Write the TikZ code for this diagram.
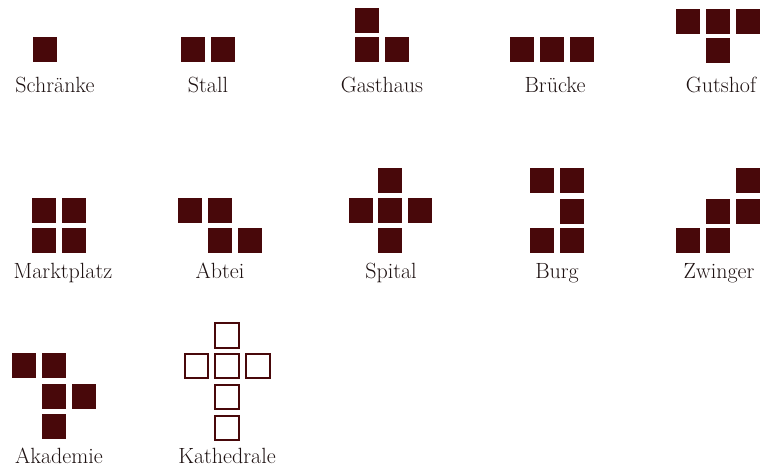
\documentclass[tikz,border=0pt]{standalone}
\usepackage{fontspec}
\definecolor{brick}{RGB}{72,8,10}
\definecolor{ink}{RGB}{30,18,18}
\begin{document}
\begin{tikzpicture}[x=1pt, y=-1pt,
  block/.style={fill=brick, draw=none, minimum width=24pt, minimum height=25pt, inner sep=0pt},
  hollowblock/.style={draw=brick, line width=2.1pt, minimum width=23.5pt, minimum height=24.5pt, inner sep=0pt},
  caption/.style={anchor=base, inner sep=0pt, text=ink, font=\fontsize{22}{26}\selectfont}]
\useasboundingbox (0,0) rectangle (765,475);
% first row
\node[block] (schraenke1) at (45,49.8) {};
\foreach \x/\y [count=\i] in {193.3/49.8, 223.2/49.8}
  \node[block] (stall\i) at (\x,\y) {};
\foreach \x/\y [count=\i] in {367/20.8, 367/49.8, 396.5/49.8}
  \node[block] (gasthaus\i) at (\x,\y) {};
\foreach \x/\y [count=\i] in {522/49.8, 551.7/49.8, 581.7/49.8}
  \node[block] (bruecke\i) at (\x,\y) {};
\foreach \x/\y [count=\i] in {688/21.5, 718/21.5, 748/21.5, 718/50.8}
  \node[block] (gutshof\i) at (\x,\y) {};
\node[caption] (schraenke) at (55,92) {Schränke};
\node[caption] (stall) at (208,92) {Stall};
\node[caption] (gasthaus) at (382,92) {Gasthaus};
\node[caption] (bruecke) at (555,92) {Brücke};
\node[caption] (gutshof) at (721,92) {Gutshof};
% second row
\foreach \x/\y [count=\i] in {43.8/210.2, 73.5/210.2, 43.8/240, 73.5/240}
  \node[block] (markt\i) at (\x,\y) {};
\foreach \x/\y [count=\i] in {190/210.2, 219.8/210.2, 219.8/240, 250/240}
  \node[block] (abtei\i) at (\x,\y) {};
\foreach \x/\y [count=\i] in {390.3/180, 360.5/210.5, 390.3/210.5, 419.5/210.5, 390.3/240.8}
  \node[block] (spital\i) at (\x,\y) {};
\foreach \x/\y [count=\i] in {542.2/180.8, 572.2/180.8, 572.2/211, 542.2/240.5, 572.2/240.5}
  \node[block] (burg\i) at (\x,\y) {};
\foreach \x/\y [count=\i] in {748/180.8, 718/211, 748/211, 688/240.5, 718/240.5}
  \node[block] (zwinger\i) at (\x,\y) {};
\node[caption] (markt) at (63,278) {Marktplatz};
\node[caption] (abtei) at (220,278) {Abtei};
\node[caption] (spital) at (391,278) {Spital};
\node[caption] (burg) at (557,278) {Burg};
\node[caption] (zwinger) at (719,278) {Zwinger};
% third row
\foreach \x/\y [count=\i] in {23.8/365.5, 53.7/365.5, 53.7/396.8, 83.8/396.8, 53.7/426.5}
  \node[block] (akademie\i) at (\x,\y) {};
\foreach \x/\y [count=\i] in {227/335.3, 196.3/366, 227/366, 258/366, 227/397, 227/428}
  \node[hollowblock] (kathedrale\i) at (\x,\y) {};
\node[caption] (akademie) at (59,463) {Akademie};
\node[caption] (kathedrale) at (227,463) {Kathedrale};
\end{tikzpicture}
\end{document}
